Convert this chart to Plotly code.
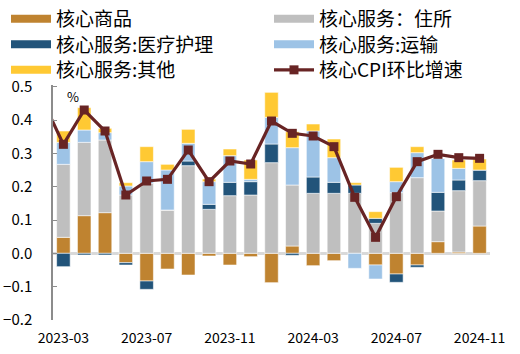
import plotly.graph_objects as go

months = ["2023-02", "2023-03", "2023-04", "2023-05", "2023-06", "2023-07", "2023-08",
          "2023-09", "2023-10", "2023-11", "2023-12", "2024-01", "2024-02", "2024-03",
          "2024-04", "2024-05", "2024-06", "2024-07", "2024-08", "2024-09", "2024-10",
          "2024-11"]

core_goods = [None, 0.048, 0.113, 0.122, -0.028, -0.083, -0.047, -0.065, -0.008, -0.035,
              -0.010, -0.088, 0.022, -0.037, -0.022, 0.0, -0.035, -0.062, -0.035, 0.035,
              0.004, 0.082]
shelter = [None, 0.219, 0.220, 0.218, 0.175, 0.210, 0.130, 0.263, 0.132, 0.173, 0.175,
           0.272, 0.183, 0.180, 0.180, 0.180, 0.090, 0.182, 0.227, 0.092, 0.184, 0.136]
medical = [None, -0.040, -0.005, -0.005, -0.007, -0.025, 0.0, 0.014, 0.015, 0.040, 0.040,
           0.056, -0.006, 0.049, 0.033, 0.025, 0.015, -0.025, -0.007, 0.056, 0.032, 0.032]
transport = [None, 0.066, 0.037, 0.022, 0.027, 0.065, 0.120, 0.053, 0.068, 0.080, 0.007,
             0.080, 0.112, 0.138, 0.074, -0.045, -0.042, 0.033, 0.075, 0.102, 0.035, 0.0]
other = [None, 0.034, 0.067, 0.013, 0.010, 0.045, 0.017, 0.042, 0.008, 0.020, 0.058,
         0.075, 0.048, 0.021, 0.056, 0.007, 0.020, 0.043, 0.018, 0.0, 0.025, 0.033]
core_cpi = [0.46, 0.327, 0.430, 0.367, 0.175, 0.217, 0.222, 0.310, 0.215, 0.277, 0.268,
            0.397, 0.360, 0.352, 0.320, 0.168, 0.048, 0.170, 0.275, 0.297, 0.287, 0.285]

tick_labels = ["2023-03", "2023-07", "2023-11", "2024-03", "2024-07", "2024-11"]

names = ["核心商品", "核心服务：住所", "核心服务:医疗护理", "核心服务:运输", "核心服务:其他", "核心CPI环比增速"]
colors = ["#BF8330", "#BFBFBF", "#22547A", "#9DC3E6", "#FFC933", "#682424"]
series = [core_goods, shelter, medical, transport, other]

FONT = "Noto Sans CJK SC"
W, H = 520, 354
fig = go.Figure()

for s, n, c in zip(series, names[:5], colors[:5]):
    fig.add_trace(go.Bar(x=months, y=s, name=n,
                         marker=dict(color=c, line=dict(color="rgba(255,255,255,0.55)", width=1)),
                         showlegend=False))

fig.add_trace(go.Scatter(x=months, y=core_cpi, name=names[5], mode="lines+markers",
                         line=dict(color=colors[5], width=3.2),
                         marker=dict(symbol="square", size=9, color=colors[5]),
                         showlegend=False))

# one legend per entry, laid out in a 2-column x 3-row grid like the reference
leg_layout = {}
row_tops = [0, 25.5, 51]
for i, (n, c) in enumerate(zip(names, colors)):
    key = "legend" if i == 0 else f"legend{i + 1}"
    if i < 5:
        fig.add_trace(go.Scatter(x=[None], y=[None], name=n, mode="lines",
                                 line=dict(color=c, width=8), legend=key))
    else:
        fig.add_trace(go.Scatter(x=[None], y=[None], name=n, mode="lines+markers",
                                 line=dict(color=c, width=3.2),
                                 marker=dict(symbol="square", size=9, color=c), legend=key))
    col, row = i % 2, i // 2
    leg_layout[key] = dict(x=(6 if col == 0 else 269) / W, y=1 - row_tops[row] / H,
                           xref="container", yref="container", xanchor="left", yanchor="top",
                           orientation="v", font=dict(size=19, family=FONT), itemwidth=40,
                           bgcolor="rgba(0,0,0,0)", borderwidth=0)

fig.update_layout(
    width=W, height=H,
    margin=dict(l=53, r=30, t=85, b=34, autoexpand=False),
    barmode="relative", bargap=0.35,
    plot_bgcolor="white", paper_bgcolor="white",
    font=dict(family=FONT, size=14, color="black"),
    annotations=[dict(text="%", x=(65 - 53) / 437, y=1.0, xref="paper", yref="paper",
                      xanchor="left", yanchor="top", showarrow=False,
                      font=dict(size=13, family=FONT))],
    **leg_layout,
)

fig.update_xaxes(type="category", range=[0.5, 21.5], tickvals=tick_labels, ticktext=tick_labels,
                 showgrid=False, showline=False, ticks="", ticklabelstandoff=8,
                 tickfont=dict(size=14, family=FONT))
fig.update_yaxes(range=[-0.2, 0.505], dtick=0.1, tickformat=".1f", showgrid=False,
                 showline=True, linecolor="#8C8C8C", linewidth=1.5,
                 ticks="inside", ticklen=4, tickcolor="#8C8C8C",
                 zeroline=True, zerolinecolor="#D9D9D9", zerolinewidth=2.5,
                 ticklabelstandoff=16, tickfont=dict(size=15, family=FONT))

fig.write_html("out.html")
